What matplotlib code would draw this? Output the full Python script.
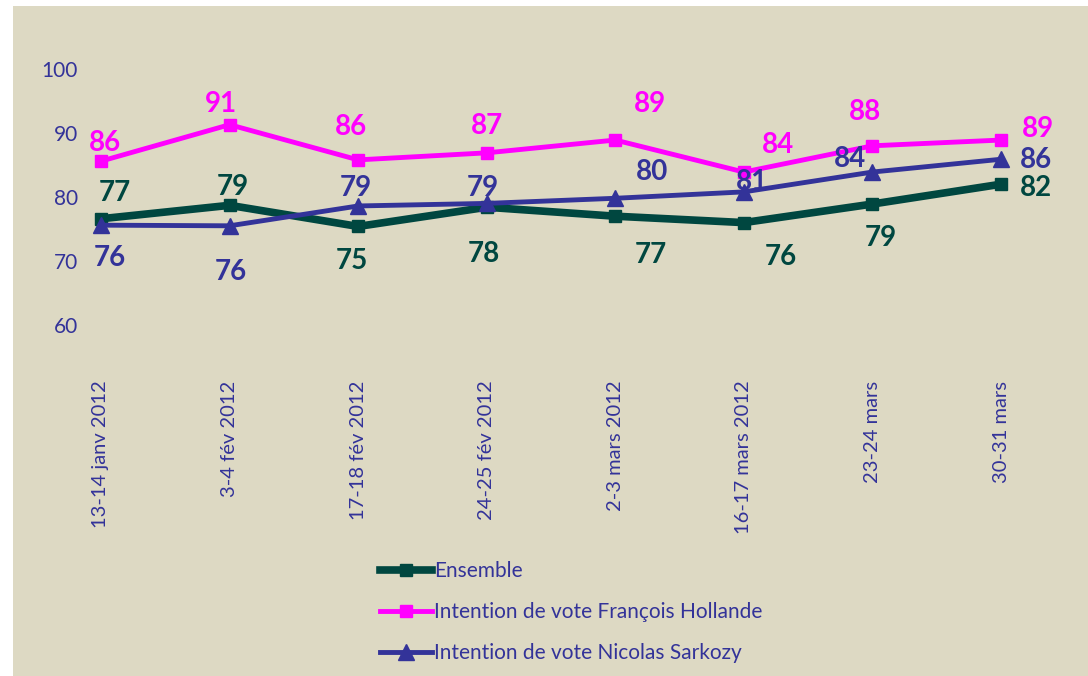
import matplotlib
matplotlib.use("Agg")
import matplotlib.pyplot as plt
from matplotlib.patches import Rectangle

dates = ["13-14 janv 2012", "3-4 fév 2012", "17-18 fév 2012", "24-25 fév 2012",
         "2-3 mars 2012", "16-17 mars 2012", "23-24 mars", "30-31 mars"]
ensemble = [76.6, 78.7, 75.4, 78.4, 77.0, 76.0, 78.9, 82.0]
hollande = [85.6, 91.3, 85.8, 86.9, 88.9, 83.9, 88.0, 88.9]
sarkozy = [75.6, 75.5, 78.6, 79.0, 79.8, 80.8, 83.9, 85.9]

# label offsets in pixels (dx, dy), dy positive = up
ens_off = [(14, 26), (3, 18), (-6, -35), (-3, -47), (36, -39), (37, -34), (8, -34), (35, -4)]
hol_off = [(4, 18), (-9, 21), (-7, 33), (0, 27), (35, 36), (34, 27), (-7, 34), (37, 11)]
sar_off = [(9, -33), (1, -46), (-2, 18), (-4, 15), (37, 26), (8, 10), (-22, 13), (35, -1)]

BG = "#DDD9C3"
C_ENS = "#004740"
C_HOL = "#FF00FF"
C_SAR = "#333399"
FONT = "Lato"

fig = plt.figure(figsize=(10.88, 6.76), dpi=100)
fig.patch.set_facecolor("white")
fig.patches.append(Rectangle((13 / 1088, 0), 1 - 13 / 1088, 1 - 6 / 676,
                             transform=fig.transFigure, facecolor=BG,
                             edgecolor="none", zorder=-10))

L, R, T, B = 85, 1020, 69, 325
ax = fig.add_axes([L / 1088, 1 - B / 676, (R - L) / 1088, (B - T) / 676])
ax.set_zorder(2)
ax.set_facecolor("none")
for s in ax.spines.values():
    s.set_visible(False)

x = list(range(len(dates)))
ax.plot(x, ensemble, color=C_ENS, lw=5.5, marker="s", ms=9, label="Ensemble", zorder=3)
ax.plot(x, hollande, color=C_HOL, lw=3.5, marker="s", ms=8,
        label="Intention de vote François Hollande", zorder=4)
ax.plot(x, sarkozy, color=C_SAR, lw=3.5, marker="^", ms=11,
        label="Intention de vote Nicolas Sarkozy", zorder=5)

px = 72 / 100
for vals, offs, col in [(ensemble, ens_off, C_ENS), (hollande, hol_off, C_HOL),
                        (sarkozy, sar_off, C_SAR)]:
    for i, (v, (dx, dy)) in enumerate(zip(vals, offs)):
        ax.annotate(str(round(v)), (i, v), xytext=(dx * px, dy * px),
                    textcoords="offset points", ha="center", va="center",
                    fontsize=20, fontweight="bold", color=col, family=FONT,
                    annotation_clip=False, zorder=6)

ax.set_xlim(-16 / 128.6, 7 + 19 / 128.6)
ax.set_ylim(60, 100)
ax.set_yticks([60, 70, 80, 90, 100])
ax.set_xticks(x)
ax.set_xticklabels(dates, rotation=90, va="top", ha="center")
ax.tick_params(axis="y", length=0, pad=5, labelsize=15, labelcolor=C_SAR)
ax.tick_params(axis="x", length=0, pad=40, labelsize=14.5, labelcolor=C_SAR)
for lab in ax.get_xticklabels() + ax.get_yticklabels():
    lab.set_family(FONT)

leg = fig.legend(loc="upper left", bbox_to_anchor=(372 / 1088, 1 - 553 / 676),
                 frameon=False, prop={"family": FONT, "size": 15},
                 handlelength=2.5, handletextpad=0.1, labelspacing=1.0,
                 borderaxespad=0)
for t in leg.get_texts():
    t.set_color(C_SAR)

fig.savefig("out.png", dpi=100, facecolor=fig.get_facecolor())
